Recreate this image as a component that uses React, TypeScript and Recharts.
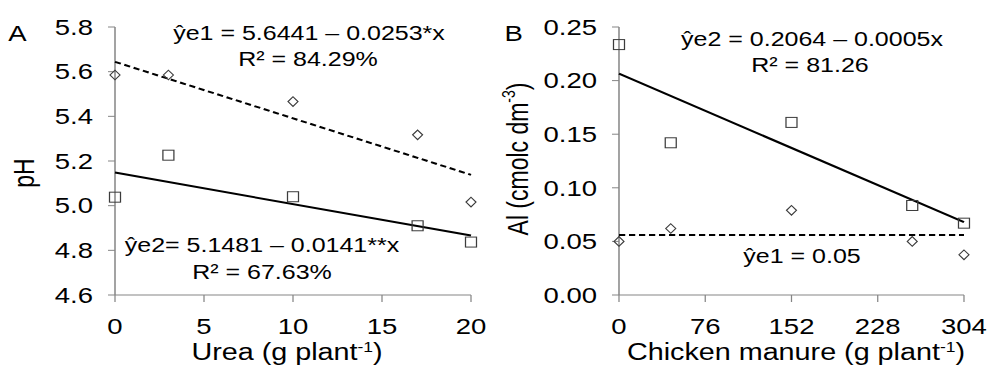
import React from 'react';
import { ScatterChart, Scatter, XAxis, YAxis } from 'recharts';

const S = 1.25;
const FONT = '"Liberation Sans", Arial, Helvetica, sans-serif';

// Panel A – Urea vs pH
const ureaX = [0, 3, 10, 17, 20];
const phE1 = [5.585, 5.585, 5.466, 5.317, 5.016];
const phE2 = [5.038, 5.226, 5.04, 4.91, 4.837];
const ureaFitX = [0, 20];
const phFitE1 = [5.6441, 5.1381];
const phFitE2 = [5.1481, 4.8661];
const ureaTicks = [0, 5, 10, 15, 20];
const phTicks = [4.6, 4.8, 5.0, 5.2, 5.4, 5.6, 5.8];

// Panel B – Chicken manure vs Al
const manureX = [0, 45.6, 152, 258.4, 304];
const alE1 = [0.05, 0.062, 0.079, 0.05, 0.0375];
const alE2 = [0.2336, 0.142, 0.161, 0.0835, 0.067];
const manureFitX = [0, 304];
const alFitE1 = [0.056, 0.056];
const alFitE2 = [0.2064, 0.068];
const manureTicks = [0, 76, 152, 228, 304];
const alTicks = [0, 0.05, 0.1, 0.15, 0.2, 0.25];

const zip = (xs: number[], ys: number[]) => xs.map((x, i) => ({ x, y: ys[i] }));

const Diamond = (p: any) => {
  const { cx, cy } = p;
  if (cx == null || cy == null) return <g />;
  return (
    <path
      d={`M${cx},${cy - 4.8} L${cx + 4},${cy} L${cx},${cy + 4.8} L${cx - 4},${cy} Z`}
      fill="none"
      stroke="#3c3c3c"
      strokeWidth={1}
    />
  );
};

const Square = (p: any) => {
  const { cx, cy } = p;
  if (cx == null || cy == null) return <g />;
  return <rect x={cx - 4.4} y={cy - 5} width={8.8} height={10} fill="none" stroke="#3c3c3c" strokeWidth={1} />;
};

const NoShape = () => <g />;

const AxisTitle = (props: any) => {
  const { tx, ty, rotate, main, sup, tail } = props;
  return (
    <text
      x={tx}
      y={ty}
      transform={rotate ? `rotate(-90 ${tx} ${ty})` : undefined}
      textAnchor="middle"
      dominantBaseline={rotate ? 'central' : 'auto'}
      fontSize={23}
      fontFamily={FONT}
      fill="#000"
    >
      {main}
      {sup ? (
        <tspan dy={-8} fontSize={14}>
          {sup}
        </tspan>
      ) : null}
      {tail ? <tspan dy={sup ? 8 : 0}>{tail}</tspan> : null}
    </text>
  );
};

const axisLine = { stroke: '#858585', strokeWidth: 1.2 };
const tickStyle = { fill: '#000', fontSize: 22, fontFamily: FONT };

const AX = '#000';

export default function App() {
  return (
    <div style={{ position: 'absolute', left: 0, top: 0, width: 989, height: 365, overflow: 'hidden', background: '#fff' }}>
      <div style={{ position: 'relative', width: 989 / S, height: 365, transform: `scale(${S},1)`, transformOrigin: '0 0' }}>
        <div style={{ position: 'absolute', left: 0, top: 0 }}>
          <ScatterChart width={395} height={365} margin={{ top: 27, right: 18.2, bottom: 10, left: 40 }}>
            <XAxis
              dataKey="x"
              type="number"
              domain={[0, 20]}
              ticks={ureaTicks}
              axisLine={axisLine}
              tickLine={{ stroke: '#858585' }}
              tickSize={7}
              tickMargin={16}
              tick={tickStyle}
              height={60}
              interval={0}
              label={<AxisTitle tx={229.6} ty={360} main="Urea (g plant" sup="-1" tail=")" />}
            />
            <YAxis
              dataKey="y"
              type="number"
              domain={[4.6, 5.8]}
              ticks={phTicks}
              tickFormatter={(v: number) => v.toFixed(1)}
              axisLine={axisLine}
              tickLine={{ stroke: '#858585' }}
              tickSize={5.6}
              tickMargin={12}
              tick={tickStyle}
              width={52}
              interval={0}
              label={<AxisTitle tx={19.2} ty={173} rotate main="pH" />}
            />
            <Scatter data={zip(ureaFitX, phFitE1)} line={{ stroke: AX, strokeWidth: 2, strokeDasharray: '5 3' }} shape={NoShape} isAnimationActive={false} legendType="none" />
            <Scatter data={zip(ureaFitX, phFitE2)} line={{ stroke: AX, strokeWidth: 2 }} shape={NoShape} isAnimationActive={false} legendType="none" />
            <Scatter data={zip(ureaX, phE1)} shape={Diamond} isAnimationActive={false} />
            <Scatter data={zip(ureaX, phE2)} shape={Square} isAnimationActive={false} />
          </ScatterChart>
        </div>
        <div style={{ position: 'absolute', left: 395, top: 0 }}>
          <ScatterChart width={989 / S - 395} height={365} margin={{ top: 27, right: 20, bottom: 10, left: 40 }}>
            <XAxis
              dataKey="x"
              type="number"
              domain={[0, 304]}
              ticks={manureTicks}
              axisLine={axisLine}
              tickLine={{ stroke: '#858585' }}
              tickSize={7}
              tickMargin={16}
              tick={tickStyle}
              height={60}
              interval={0}
              label={<AxisTitle tx={241.8} ty={360} main="Chicken manure (g plant" sup="-1" tail=")" />}
            />
            <YAxis
              dataKey="y"
              type="number"
              domain={[0, 0.25]}
              ticks={alTicks}
              tickFormatter={(v: number) => v.toFixed(2)}
              axisLine={axisLine}
              tickLine={{ stroke: '#858585' }}
              tickSize={5.6}
              tickMargin={12}
              tick={tickStyle}
              width={60.2}
              interval={0}
              label={<AxisTitle tx={19.4} ty={159} rotate main="Al (cmolc dm" sup="-3" tail=")" />}
            />
            <Scatter data={zip(manureFitX, alFitE1)} line={{ stroke: AX, strokeWidth: 2, strokeDasharray: '5 3' }} shape={NoShape} isAnimationActive={false} legendType="none" />
            <Scatter data={zip(manureFitX, alFitE2)} line={{ stroke: AX, strokeWidth: 2 }} shape={NoShape} isAnimationActive={false} legendType="none" />
            <Scatter data={zip(manureX, alE1)} shape={Diamond} isAnimationActive={false} />
            <Scatter data={zip(manureX, alE2)} shape={Square} isAnimationActive={false} />
          </ScatterChart>
        </div>
        <svg
          width={989 / S}
          height={365}
          style={{ position: 'absolute', left: 0, top: 0, pointerEvents: 'none' }}
          fontFamily={FONT}
        >
          <text x={14} y={41} fontSize={22} textAnchor="middle" fill="#000">A</text>
          <text x={411} y={41} fontSize={22} textAnchor="middle" fill="#000">B</text>
          <text x={247.2} y={40} fontSize={20} textAnchor="middle" fill="#000">ŷe1 = 5.6441 – 0.0253*x</text>
          <text x={246.4} y={66} fontSize={20} textAnchor="middle" fill="#000">R² = 84.29%</text>
          <text x={209.6} y={252} fontSize={20} textAnchor="middle" fill="#000">ŷe2= 5.1481 – 0.0141**x</text>
          <text x={209.6} y={279} fontSize={20} textAnchor="middle" fill="#000">R² = 67.63%</text>
          <text x={649.6} y={46} fontSize={20} textAnchor="middle" fill="#000">ŷe2 = 0.2064 – 0.0005x</text>
          <text x={648} y={72} fontSize={20} textAnchor="middle" fill="#000">R² = 81.26</text>
          <text x={641.6} y={263} fontSize={20} textAnchor="middle" fill="#000">ŷe1 = 0.05</text>
        </svg>
      </div>
    </div>
  );
}
